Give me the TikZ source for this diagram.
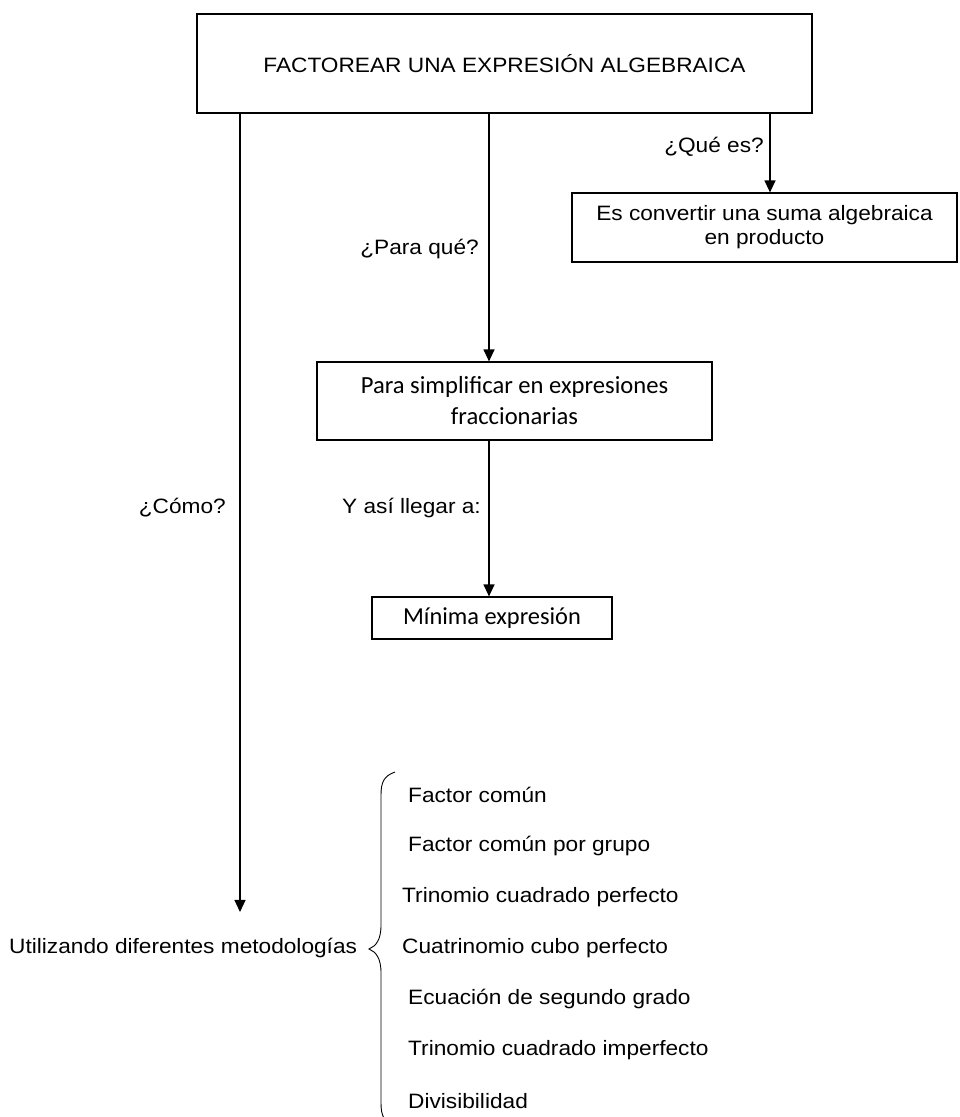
\documentclass[tikz,border=0pt]{standalone}
\usepackage{fontspec}
\setmainfont{Liberation Sans}[FakeStretch=1.09]
\newfontfamily\calib{Carlito}
\usetikzlibrary{arrows.meta}
\begin{document}
\begin{tikzpicture}[x=1pt,y=-1pt,
  every node/.style={font=\fontsize{20.8}{24}\selectfont, inner sep=0pt},
  boxnode/.style={draw, line width=1.2pt, align=center},
  lbl/.style={anchor=east},
  item/.style={anchor=west},
  arr/.style={line width=1.2pt, -{Triangle[width=11pt,length=12pt]}}]
\useasboundingbox[fill=white] (0,0) rectangle (959,1117);
% boxes
\node[boxnode, minimum width=615pt, minimum height=99pt] (top) at (504.5,63.5) {FACTOREAR UNA EXPRESIÓN ALGEBRAICA};
\node[boxnode, minimum width=385pt, minimum height=69pt] (what) at (764.5,227.5) {Es convertir una suma algebraica\\en producto};
\node[boxnode, minimum width=395pt, minimum height=78pt, font=\calib\fontsize{24.6}{31}\selectfont] (para) at (514.5,401) {Para simplificar en expresiones\\fraccionarias};
\node[boxnode, minimum width=240pt, minimum height=42pt, font=\calib\fontsize{24.4}{26}\selectfont] (min) at (492,618) {Mínima expresión};
\node[anchor=west] (util) at (9,948) {Utilizando diferentes metodologías};
% x positions of connectors
\coordinate (xl) at (240,0);
\coordinate (xm) at (489,0);
\coordinate (xr) at (770,0);
% connectors
\draw[arr] (top.south -| xr) -- (what.north -| xr);
\draw[arr] (top.south -| xm) -- (para.north -| xm);
\draw[arr] (para.south -| xm) -- (min.north -| xm);
\draw[arr, shorten >=26pt] (top.south -| xl) -- (util.north -| xl);
% labels
\node[lbl] (lq) at (764,147) {¿Qué es?};
\node[lbl] (lp) at (479,249) {¿Para qué?};
\node[lbl] (ly) at (481,508) {Y así llegar a:};
\node[lbl] (lc) at (226,508) {¿Cómo?};
% brace
\draw[line width=0.9pt] (395,772) .. controls (384,776) and (381,782) .. (381,795)
  -- (381,925) .. controls (381,940) and (376,946) .. (369,949)
  .. controls (376,952) and (381,958) .. (381,973)
  -- (381,1103) .. controls (381,1116) and (384,1122) .. (395,1126);
% items
\node[item] (i1) at (408,795) {Factor común};
\node[item] (i2) at (408,846) {Factor común por grupo};
\node[item] (i3) at (402,897) {Trinomio cuadrado perfecto};
\node[item] (i4) at (402,948) {Cuatrinomio cubo perfecto};
\node[item] (i5) at (408,999) {Ecuación de segundo grado};
\node[item] (i6) at (408,1050) {Trinomio cuadrado imperfecto};
\node[item] (i7) at (408,1101) {Divisibilidad};
\end{tikzpicture}
\end{document}
